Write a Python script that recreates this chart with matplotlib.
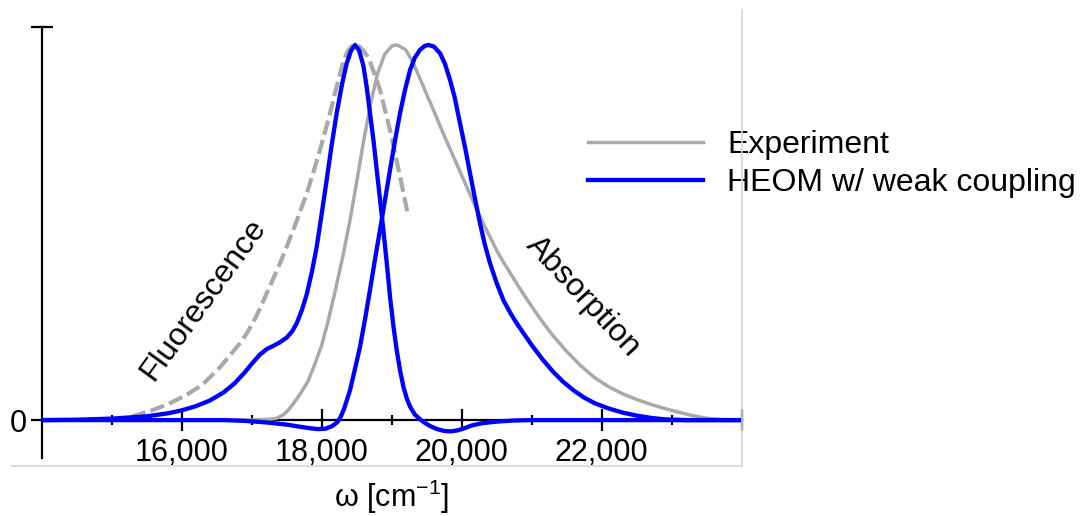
import matplotlib
matplotlib.use("Agg")
import matplotlib.pyplot as plt
from matplotlib.lines import Line2D

plt.rcParams['font.family'] = ['Liberation Sans', 'DejaVu Sans']
plt.rcParams['mathtext.fontset'] = 'custom'
plt.rcParams['mathtext.rm'] = 'Liberation Sans'

# Experimental absorption spectrum (solid grey)
exp_abs_w = [14000, 16500, 16900, 17100, 17250, 17357, 17450, 17520, 17600, 17700,
             17800, 17900, 18000, 18100, 18200, 18300, 18400, 18500, 18600, 18700,
             18800, 18900, 19000, 19050, 19100, 19200, 19300, 19400, 19500, 19600,
             19700, 19800, 19900, 20000, 20100, 20200, 20300, 20400, 20500, 20600,
             20700, 20800, 20900, 21000, 21150, 21300, 21500, 21700, 21900, 22100,
             22300, 22500, 22700, 22900, 23100, 23300, 23500, 23700, 24000]
exp_abs_v = [0.0, 0.0, 0.0, 0.001, 0.002, 0.005, 0.014, 0.026, 0.045, 0.072,
             0.102, 0.148, 0.20, 0.27, 0.35, 0.435, 0.528, 0.635, 0.745, 0.845,
             0.925, 0.975, 0.997, 1.0, 0.998, 0.987, 0.955, 0.912, 0.868, 0.825,
             0.78, 0.737, 0.695, 0.652, 0.61, 0.568, 0.527, 0.49, 0.452, 0.42,
             0.39, 0.36, 0.331, 0.303, 0.263, 0.226, 0.183, 0.145, 0.113, 0.089,
             0.07, 0.055, 0.042, 0.031, 0.021, 0.012, 0.005, 0.0015, 0.0]

# Experimental fluorescence spectrum (dashed grey)
exp_fl_w = [15000, 15261, 15590, 15800, 16076, 16300, 16547, 16700, 16833, 16933,
            17024, 17120, 17214, 17310, 17405, 17500, 17595, 17690, 17786, 17880,
            17976, 18050, 18119, 18190, 18262, 18320, 18380, 18440, 18476, 18530,
            18595, 18650, 18690, 18760, 18833, 18900, 18976, 19050, 19119, 19180,
            19238]
exp_fl_v = [0.0, 0.008, 0.027, 0.042, 0.068, 0.095, 0.141, 0.175, 0.205, 0.232,
            0.262, 0.298, 0.338, 0.378, 0.418, 0.462, 0.507, 0.555, 0.604, 0.66,
            0.72, 0.77, 0.818, 0.872, 0.924, 0.962, 0.986, 0.998, 1.0, 0.997,
            0.985, 0.97, 0.955, 0.92, 0.88, 0.83, 0.773, 0.71, 0.649, 0.595,
            0.542]

# HEOM absorption spectrum (blue)
heom_abs_w = [14000, 16600, 16900, 17200, 17500, 17700, 17850, 17950, 18050, 18150,
              18220, 18262, 18320, 18405, 18480, 18548, 18620, 18690, 18760, 18833,
              18900, 18976, 19050, 19119, 19190, 19262, 19330, 19405, 19470, 19524,
              19600, 19690, 19760, 19833, 19900, 19976, 20050, 20119, 20190, 20262,
              20330, 20405, 20500, 20595, 20690, 20786, 20900, 21000, 21150, 21300,
              21450, 21600, 21750, 21900, 22100, 22300, 22500, 22700, 22900, 23200,
              24000]
heom_abs_v = [0.0, 0.0, -0.002, -0.006, -0.012, -0.018, -0.022, -0.024, -0.023, -0.016,
              -0.006, 0.005, 0.03, 0.08, 0.14, 0.196, 0.27, 0.347, 0.427, 0.507,
              0.582, 0.667, 0.748, 0.818, 0.88, 0.933, 0.966, 0.987, 0.997, 1.0,
              0.996, 0.978, 0.95, 0.907, 0.86, 0.791, 0.725, 0.658, 0.59, 0.524,
              0.468, 0.418, 0.365, 0.32, 0.287, 0.258, 0.227, 0.20, 0.163, 0.13,
              0.102, 0.079, 0.06, 0.045, 0.031, 0.02, 0.012, 0.006, 0.002, 0.0,
              0.0]

# HEOM fluorescence spectrum (blue)
heom_fl_w = [14000, 14500, 15000, 15500, 15800, 16000, 16200, 16400, 16600, 16750,
             16900, 17000, 17119, 17220, 17310, 17400, 17500, 17580, 17643, 17720,
             17786, 17860, 17929, 18000, 18071, 18140, 18214, 18290, 18357, 18420,
             18476, 18535, 18595, 18645, 18690, 18740, 18786, 18835, 18881, 18930,
             18976, 19025, 19071, 19120, 19167, 19215, 19262, 19330, 19405, 19480,
             19550, 19650, 19750, 19850, 19950, 20050, 20150, 20300, 20500, 20750,
             21000, 24000]
heom_fl_v = [0.0, 0.001, 0.004, 0.01, 0.018, 0.026, 0.037, 0.052, 0.074, 0.097,
             0.127, 0.15, 0.175, 0.19, 0.198, 0.207, 0.22, 0.237, 0.258, 0.295,
             0.335, 0.395, 0.462, 0.55, 0.64, 0.73, 0.818, 0.895, 0.951, 0.985,
             1.0, 0.985, 0.945, 0.885, 0.818, 0.745, 0.667, 0.585, 0.507, 0.418,
             0.329, 0.25, 0.187, 0.132, 0.089, 0.058, 0.036, 0.015, 0.002, -0.008,
             -0.016, -0.024, -0.029, -0.03, -0.027, -0.021, -0.014, -0.008, -0.004, -0.001,
             0.0, 0.0]

major_ticks = [16000, 18000, 20000, 22000, 24000]
major_labels = ['16,000', '18,000', '20,000', '22,000', '']
minor_ticks = [15000, 17000, 19000, 21000, 23000]
y_top = 1.047
y_bottom = -0.101

GREY = '#a9a9a9'
BLUE = '#0000ff'
FS = 23

W, H = 1084, 516
fig = plt.figure(figsize=(W / 100, H / 100), dpi=100)
ax = fig.add_axes([41.7 / W, 1 - 458 / H, 700 / W, (458 - 27.3) / H])
ax.set_xlim(14000, 24000)
ax.set_ylim(y_bottom, y_top)

ax.plot(exp_abs_w, exp_abs_v, color=GREY, lw=2.5, zorder=3, label='Experiment')
ax.plot(exp_fl_w, exp_fl_v, color=GREY, lw=3.0, dashes=(3.5, 1.3), zorder=3)
ax.plot(heom_abs_w, heom_abs_v, color=BLUE, lw=3.1, zorder=4, label='HEOM w/ weak coupling')
ax.plot(heom_fl_w, heom_fl_v, color=BLUE, lw=3.1, zorder=4)

for s in ('top', 'right'):
    ax.spines[s].set_visible(False)
ax.spines['bottom'].set_position(('data', 0))
for s in ('bottom', 'left'):
    ax.spines[s].set_linewidth(1.6)
    ax.spines[s].set_color('black')

ax.set_xticks(major_ticks)
ax.set_xticklabels(major_labels)
ax.set_xticks(minor_ticks, minor=True)
ax.set_yticks([0, y_top])
ax.set_yticklabels(['0', ''])
ax.tick_params(axis='both', which='major', direction='inout', length=16, width=1.6,
               labelsize=FS - 1, pad=3)
ax.tick_params(axis='x', which='major', pad=5)
ax.tick_params(axis='x', which='minor', direction='inout', length=7, width=1.6)

fig.text(392 / W, 1 - 497 / H, r'ω [cm$^{\mathregular{-1}}$]', fontsize=FS - 1,
         ha='center', va='center')

ax.legend(loc='upper left', bbox_to_anchor=(588 / W, 1 - 130 / H),
          bbox_transform=fig.transFigure, frameon=False, fontsize=FS,
          handlelength=3.6, handletextpad=0.75, labelspacing=0.25,
          borderpad=0, borderaxespad=0)

fig.text(203 / W, 1 - 300 / H, 'Fluorescence', fontsize=FS, rotation=54,
         ha='center', va='center', rotation_mode='anchor')
fig.text(583 / W, 1 - 297 / H, 'Absorption', fontsize=FS, rotation=-47,
         ha='center', va='center', rotation_mode='anchor')

# light frame along the bottom and right of the plot region
fig.add_artist(Line2D([11 / W, 742 / W], [1 - 466 / H, 1 - 466 / H],
                      color='#d6d6d6', lw=1.2))
fig.add_artist(Line2D([742 / W, 742 / W], [1 - 10 / H, 1 - 466 / H],
                      color='#d6d6d6', lw=1.2))

fig.savefig('out.png', dpi=100)
